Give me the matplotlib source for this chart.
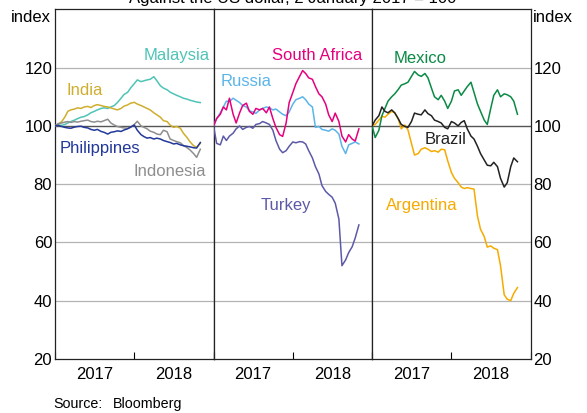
import matplotlib
matplotlib.use("Agg")
import matplotlib.pyplot as plt
import matplotlib.dates as mdates
import pandas as pd

plt.rcParams["font.family"] = ["Liberation Sans", "DejaVu Sans"]

# semi-monthly observations, 2 January 2017 = 100
dates = pd.date_range("2017-01-01", periods=45, freq="SMS")

malaysia = [100, 100.3, 100.2, 100.5, 101, 101.5, 102, 102.5, 103, 103.2, 103.8, 104.5,
            105, 105.5, 106, 106.2, 106, 106.5, 107, 108, 109.5, 110.8, 111.5, 113,
            114.5, 115.8, 115.2, 115.5, 115.8, 116, 116.9, 115.5, 113.8, 113, 112.4, 111.6,
            111, 110.5, 110, 109.5, 109.2, 108.8, 108.5, 108.2, 108]
india = [100, 100.5, 101.5, 103, 105, 105.5, 105.8, 106.2, 106, 106.5, 106.7, 106.3,
         107, 107.3, 107, 106.7, 106.5, 106.2, 105.8, 105.5, 106, 106.8, 107.2, 107.8,
         108.1, 107.5, 107, 106.5, 106, 105.5, 104.5, 103.8, 103, 101.8, 101.5, 100.3,
         99.5, 99.8, 99.2, 97.5, 96, 94.5, 93.2, 92.7, 94]
philippines = [100, 100.2, 99.8, 99.5, 99.3, 99.2, 99.6, 99.8, 99.9, 99.5, 99.3, 98.8,
               98.5, 98.8, 98.1, 97.8, 97.2, 97.8, 98, 98.3, 98.1, 98.6, 99, 99.6,
               100.3, 98.5, 97, 96.3, 95.8, 96, 95.5, 95.8, 95.5, 95, 94.6, 94.3,
               93.8, 94, 93.5, 93.2, 93, 92.8, 92.5, 92.4, 94.3]
indonesia = [100, 100.8, 101, 101.3, 101.5, 101.2, 101.5, 101.3, 101.6, 101.8, 102, 101.5,
             101.3, 101.6, 101.4, 101.8, 102.3, 101, 100.3, 99.8, 99.5, 99.3, 99.2, 99.5,
             100.5, 101.6, 100, 99.5, 99, 98.2, 97.8, 97.2, 97, 98.5, 98, 95.5,
             95, 94.6, 94.2, 93.3, 92.5, 91.7, 90.5, 89.2, 92]

russia = [100, 102.5, 104.5, 106.5, 108.5, 108.4, 109.5, 108.8, 108, 107, 106.5, 105.2,
          104.8, 104.3, 105.5, 106, 106.5, 106.2, 105.5, 105.8, 104.8, 104, 103.5, 104.8,
          107.5, 109, 109.5, 110, 109, 107.5, 106.5, 99.5, 99.8, 98.8, 98.5, 98.2,
          99, 98.5, 97.2, 93, 90.5, 93.5, 94, 94.5, 93.8]
south_africa = [100, 102.5, 104, 106.5, 105.5, 109.5, 104, 101, 104.5, 107, 107.8, 105,
                104, 106, 105.5, 106, 104.5, 106.5, 102.5, 99.5, 97, 96.4, 101, 108,
                111.5, 114.5, 117, 119, 118, 116.5, 116, 113.5, 111, 110, 107.5, 103.8,
                101.5, 104.4, 101.5, 96.5, 94.5, 97, 95.5, 94.8, 99]
turkey = [100, 94, 93.5, 96.5, 95, 96.5, 97.5, 99, 100, 98.8, 99.5, 99.8,
          99.2, 100.5, 100.8, 101.5, 101, 100.5, 98.5, 95, 92, 90.8, 91.5, 93,
          94.5, 94.2, 94.6, 94.5, 93.8, 91.5, 89, 86, 83.5, 79.5, 77.5, 76.5,
          75.5, 73.5, 68, 52, 54, 56.5, 58.5, 61.5, 66]

mexico = [100, 96, 98.5, 103.5, 106, 108.5, 110, 111, 112.5, 114, 114.5, 115,
          117, 118.7, 117.5, 117, 118, 116.5, 113, 110, 109, 110.5, 108.5, 106,
          108.5, 112, 112.4, 110.5, 112, 113.5, 115, 111.5, 107.5, 105, 102, 100.5,
          106, 110.5, 112.4, 110, 111, 110.7, 110, 108.5, 104]
brazil = [100, 102, 103.5, 106.5, 105, 104.5, 105.5, 104.5, 102.5, 100.5, 99.8, 99.5,
          101.5, 104.4, 104, 103.8, 105.5, 104.2, 103.5, 102, 101.5, 101, 99.5, 99,
          101.5, 101, 100, 101.2, 101.8, 99, 96.5, 95.5, 93, 90.5, 88.3, 86.5,
          86.3, 87.5, 86, 82, 79, 80.5, 86, 89, 87.7]
argentina = [100, 100.5, 102, 103.3, 103, 104, 105, 104.5, 102.5, 99, 100.3, 98.6,
             94, 90, 90.5, 92, 92.5, 92, 91.2, 91.5, 91, 92, 91.8, 88,
             84, 82, 80.5, 79, 78.5, 78.8, 78.5, 78.3, 69, 64.5, 62, 58.4,
             58.8, 58, 57.5, 52, 42, 40.5, 40, 42.5, 44.5]

# (name, values, colour, label date, label value)
panels = [
    [("Malaysia", malaysia, "#4FC4B6", "2018-07-14", 124.2),
     ("India", india, "#CFAE2E", "2017-05-17", 112.1),
     ("Indonesia", indonesia, "#8E8E8E", "2018-06-13", 84.2),
     ("Philippines", philippines, "#22389A", "2017-07-25", 92.4)],
    [("Turkey", turkey, "#5C5AA8", "2017-12-01", 72.7),
     ("Russia", russia, "#5BB5E8", "2017-06-02", 115.3),
     ("South Africa", south_africa, "#E6007E", "2018-04-22", 124.2)],
    [("Argentina", argentina, "#F5AB00", "2017-08-19", 72.7),
     ("Mexico", mexico, "#0A8A45", "2017-08-10", 123.0),
     ("Brazil", brazil, "#222222", "2017-12-04", 95.4)],
]

yticks = [20, 40, 60, 80, 100, 120]
year_mid = pd.to_datetime(["2017-07-02", "2018-07-02"])
year_labels = ["2017", "2018"]

fig = plt.figure(figsize=(5.87, 4.13), dpi=100)
gs = fig.add_gridspec(1, 3, left=0.0937, right=0.9041, bottom=0.131, top=0.9772, wspace=0)

for i, series in enumerate(panels):
    ax = fig.add_subplot(gs[0, i])
    ax.set_xlim(pd.Timestamp("2017-01-01"), pd.Timestamp("2019-01-01"))
    ax.set_ylim(20, 140)

    for y in [40, 60, 80, 120]:
        ax.axhline(y, color="#B4B4B4", lw=0.9, zorder=1)
    ax.axhline(100, color="#555555", lw=1.0, zorder=1)

    for name, vals, col, ldate, lval in series:
        ax.plot(dates, vals, color=col, lw=1.1, zorder=3)
        ax.text(pd.Timestamp(ldate), lval, name, color=col, fontsize=12,
                ha="center", va="center", zorder=4)

    ax.set_xticks(year_mid)
    ax.set_xticklabels(year_labels)
    ax.xaxis.set_minor_locator(mdates.YearLocator(base=1, month=1, day=1))
    ax.tick_params(axis="x", which="major", length=0, pad=6, labelsize=12)
    ax.tick_params(axis="x", which="minor", direction="in", length=5, width=0.8)

    ax.set_yticks(yticks)
    ax.tick_params(axis="y", length=0, pad=2, labelsize=12)
    if i == 0:
        ax.tick_params(axis="y", labelleft=True, labelright=False)
    elif i == 2:
        ax.tick_params(axis="y", labelleft=False, labelright=True)
    else:
        ax.tick_params(axis="y", labelleft=False)

    for sp in ax.spines.values():
        sp.set_color("#222222")
        sp.set_linewidth(0.9)

fig.text(0.498, 1 - 3 / 413, "Against the US dollar, 2 January 2017 = 100",
         ha="center", va="baseline", fontsize=12)
fig.text(0.0187, 1 - 17.5 / 413, "index", ha="left", va="center", fontsize=12)
fig.text(0.908, 1 - 17.5 / 413, "index", ha="left", va="center", fontsize=12)
fig.text(53 / 587, 1 - 404 / 413, "Source:", ha="left", va="center", fontsize=10.3)
fig.text(112.5 / 587, 1 - 404 / 413, "Bloomberg", ha="left", va="center", fontsize=10.3)

fig.savefig("out.png", dpi=100)
